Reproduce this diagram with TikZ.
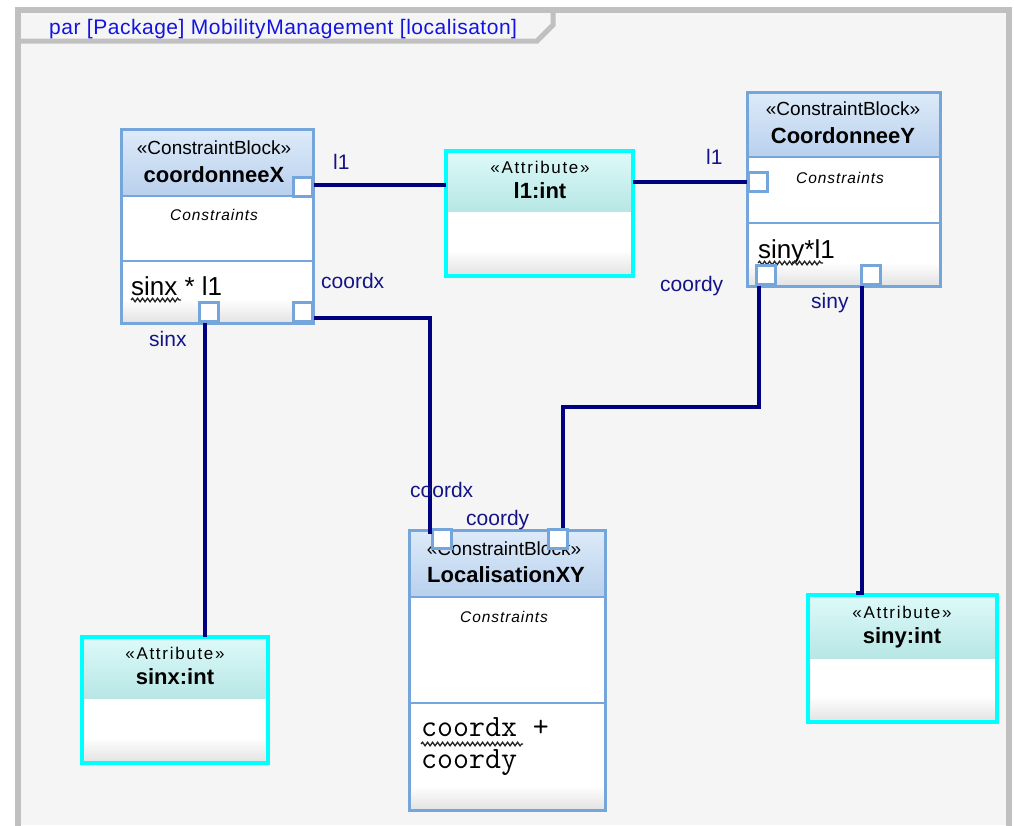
\documentclass[tikz,border=0pt]{standalone}
\usepackage{fontspec}
\setmainfont{Liberation Sans}
\usetikzlibrary{decorations.pathmorphing}

\definecolor{framebg}{RGB}{245,245,245}
\definecolor{framegray}{RGB}{192,192,192}
\definecolor{titleblue}{RGB}{20,20,225}
\definecolor{navy}{RGB}{0,0,128}
\definecolor{labelnavy}{RGB}{20,20,135}
\definecolor{cbline}{RGB}{116,166,220}
\definecolor{cbtop}{RGB}{222,235,249}
\definecolor{cbbot}{RGB}{184,208,237}
\definecolor{attop}{RGB}{222,250,250}
\definecolor{atbot}{RGB}{182,230,228}
\definecolor{bodybot}{RGB}{226,226,226}
\definecolor{attline}{RGB}{0,255,255}

% header, white body and faded foot of a constraint block: x0, y0, x1, header bottom, y1
\newcommand{\cbfill}[5]{%
  \shade[top color=cbtop,bottom color=cbbot] (#1,#2) rectangle (#3,#4);
  \fill[white] (#1,#4) rectangle (#3,#5-24);
  \shade[top color=white,bottom color=bodybot] (#1,#5-24) rectangle (#3,#5);
}
% same for an attribute box
\newcommand{\atfill}[5]{%
  \shade[top color=attop,bottom color=atbot] (#1,#2) rectangle (#3,#4);
  \fill[white] (#1,#4) rectangle (#3,#5-26);
  \shade[top color=white,bottom color=bodybot] (#1,#5-26) rectangle (#3,#5);
}

\begin{document}
\begin{tikzpicture}[x=1pt,y=-1pt,
  cbframe/.style={rectangle,draw=cbline,line width=3pt,inner sep=0pt,outer sep=0pt,anchor=north west},
  atframe/.style={rectangle,draw=attline,line width=4pt,inner sep=0pt,outer sep=0pt,anchor=north west},
  sepline/.style={draw=cbline,line width=2.5pt},
  port/.style={rectangle,draw=cbline,line width=2.5pt,fill=white,minimum size=19pt,inner sep=0pt},
  conn/.style={draw=navy,line width=4pt},
  stereo/.style={anchor=base,font=\fontsize{19}{22}\selectfont},
  atstereo/.style={anchor=base,font=\fontsize{17}{20}\selectfont\addfontfeatures{LetterSpace=10}},
  bname/.style={anchor=base,font=\fontsize{22}{26}\selectfont\bfseries},
  constr/.style={anchor=base,font=\fontsize{15.5}{18}\selectfont\itshape\addfontfeatures{LetterSpace=6}},
  expr/.style={anchor=base west,font=\fontsize{26}{30}\selectfont,inner sep=0pt},
  mexpr/.style={anchor=base west,font=\fontsize{31}{34}\selectfont\ttfamily,inner sep=0pt},
  endlabel/.style={anchor=base west,text=labelnavy,font=\fontsize{21}{24}\selectfont,inner sep=0pt},
  squig/.style={draw=black!85,line width=1.3pt,decorate,decoration={snake,amplitude=1.8pt,segment length=5pt}}
]
\useasboundingbox (0,0) rectangle (1014,825);

% diagram frame with its name tab
\fill[white] (0,0) rectangle (1014,825);
\fill[framebg] (18,10) rectangle (1009,825);
\draw[framegray,line width=6pt] (18,826) -- (18,10) -- (1009,10) -- (1009,826);
\draw[framegray,line width=5pt] (18,41) -- (537,41) -- (553,25) -- (553,10);
\node[anchor=base west,text=titleblue,font=\fontsize{21}{24}\selectfont\addfontfeatures{LetterSpace=2.5},inner sep=0pt] (title) at (49,34)
  {par [Package] MobilityManagement [localisaton]};

% ---- constraint block coordonneeX
\cbfill{121}{129}{313}{196}{323}
\draw[sepline] (121,196) -- (313,196) (121,261) -- (313,261);
\node[cbframe,minimum width=192pt,minimum height=194pt] (cx) at (121,129) {};
\node[stereo] (cxst) at (214,154) {«ConstraintBlock»};
\node[bname] (cxnm) at (214,182) {coordonneeX};
\node[constr] (cxct) at (214,220) {Constraints};
\node[expr] (cxex) at (131,295) {sinx * l1};
\draw[squig] (131,300) -- (181,300);
\node[port] (cxl1) at (303,187) {};
\node[port] (cxsinx) at (209,312) {};
\node[port] (cxcoord) at (303,312) {};

% ---- constraint block CoordonneeY
\cbfill{747}{92}{940}{157}{286}
\draw[sepline] (747,157) -- (940,157) (747,223) -- (940,223);
\node[cbframe,minimum width=193pt,minimum height=194pt] (cy) at (747,92) {};
\node[stereo] (cyst) at (843,115) {«ConstraintBlock»};
\node[bname] (cynm) at (843,143) {CoordonneeY};
\node[constr] (cyct) at (840,183) {Constraints};
\node[expr] (cyex) at (758,258) {siny*l1};
\draw[squig] (758,263) -- (823,263);
\node[port] (cyl1) at (758,182) {};
\node[port] (cycoord) at (766,275) {};
\node[port] (cysiny) at (871,275) {};

% ---- constraint block LocalisationXY
\cbfill{409}{530}{605}{597}{810}
\draw[sepline] (409,597) -- (605,597) (409,703) -- (605,703);
\node[cbframe,minimum width=196pt,minimum height=280pt] (lxy) at (409,530) {};
\node[stereo] (lxyst) at (504,555) {«ConstraintBlock»};
\node[bname] (lxynm) at (506,582) {LocalisationXY};
\node[constr] (lxyct) at (504,622) {Constraints};
\node[mexpr] (lxyex1) at (421,736) {coordx +};
\node[mexpr] (lxyex2) at (421,768) {coordy};
\draw[squig] (421,744) -- (523,744);
\node[port] (lxyx) at (442,539) {};
\node[port] (lxyy) at (558,539) {};

% ---- attribute l1:int
\atfill{446}{151}{633}{212}{276}
\node[atframe,minimum width=187pt,minimum height=125pt] (l1) at (446,151) {};
\node[atstereo] (l1st) at (540,173) {«Attribute»};
\node[bname] (l1nm) at (540,198) {l1:int};

% ---- attribute sinx:int
\atfill{82}{637}{268}{699}{763}
\node[atframe,minimum width=186pt,minimum height=126pt] (sinx) at (82,637) {};
\node[atstereo] (sinxst) at (175,659) {«Attribute»};
\node[bname] (sinxnm) at (175,684) {sinx:int};

% ---- attribute siny:int
\atfill{808}{595}{997}{659}{722}
\node[atframe,minimum width=189pt,minimum height=127pt] (siny) at (808,595) {};
\node[atstereo] (sinyst) at (902,618) {«Attribute»};
\node[bname] (sinynm) at (902,643) {siny:int};

% ---- binding connectors
\draw[conn] ([yshift=2pt]cxl1.east) -- ([yshift=2pt]cxl1.east -| l1.west);
\draw[conn] (l1.east |- cyl1.west) -- (cyl1.west);
\draw[conn] ([yshift=-6pt]cxcoord.east) -| ([xshift=-12pt,yshift=-6pt]lxyx.north);
\draw[conn] ([xshift=-7pt]cycoord.south) -- ++(0,121) -| ([xshift=5pt]lxyy.north);
\draw[conn] ([xshift=-4pt]cxsinx.south) -- ([xshift=-4pt]cxsinx.south |- sinx.north);
\draw[conn] ([xshift=-9pt]cysiny.south) -- ++(0,307) -| ([xshift=-45pt]siny.north);

% ---- connector end labels
\node[endlabel] (lbl1a) at (333,169) {l1};
\node[endlabel] (lbl1b) at (706,164) {l1};
\node[endlabel] (lbcxa) at (321,288) {coordx};
\node[endlabel] (lbcya) at (660,291) {coordy};
\node[endlabel] (lbsx) at (149,346) {sinx};
\node[endlabel] (lbsy) at (811,308) {siny};
\node[endlabel] (lbcxb) at (410,497) {coordx};
\node[endlabel] (lbcyb) at (466,525) {coordy};
\end{tikzpicture}
\end{document}
